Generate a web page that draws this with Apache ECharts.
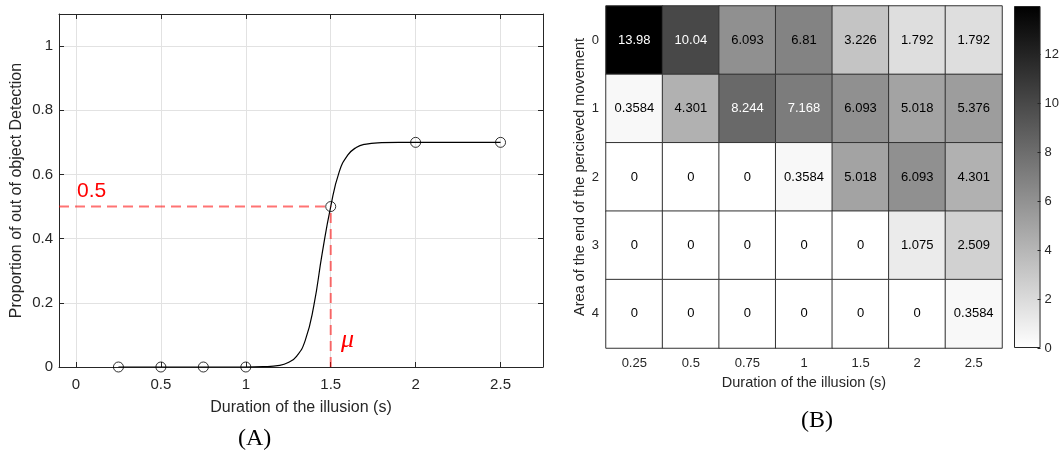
<!DOCTYPE html>
<html>
<head>
<meta charset="utf-8">
<script src="https://cdn.jsdelivr.net/npm/echarts@6/dist/echarts.min.js"></script>
<style>html,body{margin:0;padding:0;background:#fff;}#main{width:1062px;height:459px;}</style>
</head>
<body>
<div id="main"></div>
<script>
// ---- Panel A data ----
const curveX = [0.25, 0.5, 0.75, 1, 1.1, 1.2, 1.25, 1.3, 1.35, 1.4, 1.45, 1.5, 1.55, 1.6, 1.65, 1.7, 1.8, 1.9, 2, 2.5];
const curveY = [0, 0, 0, 0, 0.001, 0.005, 0.014, 0.034, 0.083, 0.19, 0.355, 0.5, 0.608, 0.66, 0.684, 0.694, 0.699, 0.7, 0.7, 0.7];
const obsX = [0.25, 0.5, 0.75, 1, 1.5, 2, 2.5];
const obsY = [0, 0, 0, 0, 0.5, 0.7, 0.7];
const muX = 1.5;
const halfY = 0.5;
const xTicksA = [0, 0.5, 1, 1.5, 2, 2.5];
const yTicksA = [0, 0.2, 0.4, 0.6, 0.8, 1];

// ---- Panel B data ----
const durations = ['0.25', '0.5', '0.75', '1', '1.5', '2', '2.5'];
const areas = ['0', '1', '2', '3', '4'];
const row0 = [13.98, 10.04, 6.093, 6.81, 3.226, 1.792, 1.792];
const row1 = [0.3584, 4.301, 8.244, 7.168, 6.093, 5.018, 5.376];
const row2 = [0, 0, 0, 0.3584, 5.018, 6.093, 4.301];
const row3 = [0, 0, 0, 0, 0, 1.075, 2.509];
const row4 = [0, 0, 0, 0, 0, 0, 0.3584];
const cbTicks = [0, 2, 4, 6, 8, 10, 12];

const rows = [row0, row1, row2, row3, row4];
const heatData = [];
rows.forEach((row, r) => row.forEach((v, c) => {
  heatData.push({ value: [c, r, v], label: { color: v > 7 ? '#ffffff' : '#000000' } });
}));
const cbMax = Math.max(...rows.flat());

const FONT = '"Liberation Sans", Arial, Helvetica, sans-serif';
const TXT = '#262626';
const GRIDC = '#e2e2e2';

const chart = echarts.init(document.getElementById('main'), null, { renderer: 'canvas' });
chart.setOption({
  animation: false,
  backgroundColor: '#ffffff',
  textStyle: { fontFamily: FONT, color: TXT },
  grid: [
    { left: 59, top: 14, width: 484, height: 353, show: false },
    { left: 606, top: 6, width: 396, height: 342, show: false },
    { left: 1014, top: 6, width: 28, height: 342, show: false }
  ],
  xAxis: [
    {
      type: 'value', gridIndex: 0, min: -0.1, max: 2.75,
      axisLine: { show: true, onZero: false, lineStyle: { color: TXT, width: 1 } },
      axisTick: { show: true, inside: true, length: 5, customValues: xTicksA, lineStyle: { color: TXT } },
      axisLabel: { customValues: xTicksA, fontSize: 15, color: TXT, margin: 10, fontFamily: FONT },
      splitLine: { show: true, lineStyle: { color: GRIDC, width: 1 } },
      name: 'Duration of the illusion (s)', nameLocation: 'middle', nameGap: 33,
      nameTextStyle: { fontSize: 16, color: TXT, fontFamily: FONT }
    },
    {
      type: 'value', gridIndex: 0, min: -0.1, max: 2.75, position: 'top',
      axisLine: { show: true, onZero: false, lineStyle: { color: TXT, width: 1 } },
      axisTick: { show: true, inside: true, length: 5, customValues: xTicksA, lineStyle: { color: TXT } },
      axisLabel: { show: false },
      splitLine: { show: true, lineStyle: { color: GRIDC, width: 1 } }
    },
    {
      type: 'category', gridIndex: 1, data: durations,
      axisLine: { show: false }, axisTick: { show: false },
      axisLabel: { fontSize: 13, color: TXT, margin: 9, fontFamily: FONT },
      splitLine: { show: false },
      name: 'Duration of the illusion (s)', nameLocation: 'middle', nameGap: 27,
      nameTextStyle: { fontSize: 14.5, color: TXT, fontFamily: FONT }
    },
    {
      type: 'category', gridIndex: 2, data: ['cb'], show: false
    }
  ],
  yAxis: [
    {
      type: 'value', gridIndex: 0, min: 0, max: 1.1,
      axisLine: { show: true, onZero: false, lineStyle: { color: TXT, width: 1 } },
      axisTick: { show: true, inside: true, length: 5, customValues: yTicksA, lineStyle: { color: TXT } },
      axisLabel: { customValues: yTicksA, fontSize: 15, color: TXT, margin: 6, fontFamily: FONT },
      splitLine: { show: true, lineStyle: { color: GRIDC, width: 1 } },
      name: 'Proportion of out of object Detection', nameLocation: 'middle', nameGap: 34,
      nameTextStyle: { fontSize: 16, color: TXT, fontFamily: FONT }
    },
    {
      type: 'value', gridIndex: 0, min: 0, max: 1.1, position: 'right',
      axisLine: { show: true, onZero: false, lineStyle: { color: TXT, width: 1 } },
      axisTick: { show: true, inside: true, length: 5, customValues: yTicksA, lineStyle: { color: TXT } },
      axisLabel: { show: false }, splitLine: { show: false }
    },
    {
      type: 'category', gridIndex: 1, data: areas, inverse: true,
      axisLine: { show: false }, axisTick: { show: false },
      axisLabel: { fontSize: 13, color: TXT, margin: 7, fontFamily: FONT },
      splitLine: { show: false },
      name: 'Area of the end of the percieved movement', nameLocation: 'middle', nameGap: 18,
      nameTextStyle: { fontSize: 14.5, color: TXT, fontFamily: FONT }
    },
    {
      type: 'value', gridIndex: 2, min: 0, max: cbMax, position: 'right', z: 10,
      axisLine: { show: false },
      axisTick: { show: true, inside: true, length: 3, customValues: cbTicks, lineStyle: { color: TXT } },
      axisLabel: { customValues: cbTicks, fontSize: 13, color: TXT, margin: 4, fontFamily: FONT },
      splitLine: { show: false }
    }
  ],
  visualMap: {
    show: false, type: 'continuous', seriesIndex: 4, dimension: 2,
    min: 0, max: cbMax, inRange: { color: ['#ffffff', '#000000'] }
  },
  series: [
    {
      type: 'line', xAxisIndex: 0, yAxisIndex: 0, z: 3,
      data: curveX.map((x, i) => [x, curveY[i]]),
      smooth: 0.5, showSymbol: false, symbol: 'none',
      lineStyle: { color: '#000000', width: 1.2 }
    },
    {
      type: 'scatter', xAxisIndex: 0, yAxisIndex: 0, z: 5,
      data: obsX.map((x, i) => [x, obsY[i]]),
      symbol: 'circle', symbolSize: 10,
      itemStyle: { color: 'rgba(255,255,255,0)', borderColor: '#000000', borderWidth: 1 }
    },
    {
      type: 'line', xAxisIndex: 0, yAxisIndex: 0, z: 4, symbol: 'none',
      data: [[-0.1, halfY], [muX, halfY]],
      lineStyle: { color: 'rgba(255,0,0,0.55)', width: 2, type: [10, 6] }
    },
    {
      type: 'line', xAxisIndex: 0, yAxisIndex: 0, z: 4, symbol: 'none',
      data: [[muX, 0], [muX, halfY]],
      lineStyle: { color: 'rgba(255,0,0,0.55)', width: 2, type: [10, 6] }
    },
    {
      type: 'heatmap', xAxisIndex: 2, yAxisIndex: 2,
      data: heatData,
      label: { show: true, fontSize: 13, fontFamily: FONT, formatter: p => String(p.value[2]) },
      itemStyle: { borderColor: '#333333', borderWidth: 1 },
      emphasis: { disabled: true }
    },
    {
      type: 'bar', xAxisIndex: 3, yAxisIndex: 3, barWidth: '100%',
      data: [cbMax],
      itemStyle: {
        color: new echarts.graphic.LinearGradient(0, 0, 0, 1, [
          { offset: 0, color: '#000000' }, { offset: 1, color: '#ffffff' }
        ]),
        borderColor: '#262626', borderWidth: 1
      },
      emphasis: { disabled: true }
    }
  ],
  graphic: [
    { type: 'text', left: 77, top: 181, style: { text: '0.5', font: '21px ' + FONT, fill: '#ff0000' } },
    { type: 'text', left: 341, top: 327, style: { text: 'μ', font: 'italic 26px "Liberation Serif", serif', fill: '#ff0000' } },
    { type: 'text', left: 238, top: 427, style: { text: '(A)', font: '24px "Liberation Serif", serif', fill: '#000000' } },
    { type: 'text', left: 801, top: 409, style: { text: '(B)', font: '24px "Liberation Serif", serif', fill: '#000000' } }
  ]
});
</script>
</body>
</html>
